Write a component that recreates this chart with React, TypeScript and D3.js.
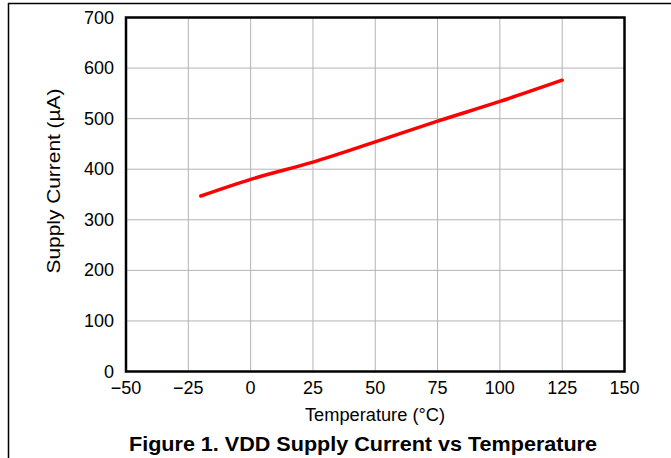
import React, { useEffect, useRef } from 'react'
import * as d3 from 'd3'

const temps = [-20, 0, 25, 50, 75, 100, 125]
const current = [347, 380, 414, 454, 495, 534, 576]
const xTicks = [-50, -25, 0, 25, 50, 75, 100, 125, 150]
const yTicks = [0, 100, 200, 300, 400, 500, 600, 700]

export default function App() {
  const ref = useRef<SVGSVGElement>(null)
  useEffect(() => {
    if (!ref.current) return
    const svg = d3.select(ref.current)
    svg.selectAll('*').remove()
    const W = 671, H = 458
    const m = { left: 126, top: 17.5, right: 624.5, bottom: 371.5 }
    const font = 'Liberation Sans, Arial, sans-serif'
    const x = d3.scaleLinear().domain([-50, 150]).range([m.left, m.right])
    const y = d3.scaleLinear().domain([0, 700]).range([m.bottom, m.top])

    // page frame
    svg.append('line').attr('x1', 8).attr('x2', W).attr('y1', 3.5).attr('y2', 3.5).attr('stroke', '#000').attr('stroke-width', 1.5)
    svg.append('line').attr('x1', 8.5).attr('x2', 8.5).attr('y1', 3).attr('y2', H).attr('stroke', '#000').attr('stroke-width', 1.5)

    const g = svg.append('g')
    g.selectAll('line.vg').data(xTicks).enter().append('line')
      .attr('x1', d => x(d)).attr('x2', d => x(d)).attr('y1', m.top).attr('y2', m.bottom)
      .attr('stroke', '#b4b4b4').attr('stroke-width', 1)
    g.selectAll('line.hg').data(yTicks).enter().append('line')
      .attr('x1', m.left).attr('x2', m.right).attr('y1', d => y(d)).attr('y2', d => y(d))
      .attr('stroke', '#b4b4b4').attr('stroke-width', 1)

    const line = d3.line<number>().x((_, i) => x(temps[i])).y(d => y(d)).curve(d3.curveMonotoneX)
    g.append('path').datum(current).attr('d', line).attr('fill', 'none')
      .attr('stroke', '#ff0000').attr('stroke-width', 3.5).attr('stroke-linecap', 'round')

    g.append('rect').attr('x', m.left).attr('y', m.top).attr('width', m.right - m.left).attr('height', m.bottom - m.top)
      .attr('fill', 'none').attr('stroke', '#000').attr('stroke-width', 2.5)

    g.selectAll('text.xt').data(xTicks).enter().append('text')
      .attr('x', d => x(d)).attr('y', 394).attr('text-anchor', 'middle')
      .attr('font-family', font).attr('font-size', 18)
      .text(d => d < 0 ? '\u2212' + Math.abs(d) : String(d))
    g.selectAll('text.yt').data(yTicks).enter().append('text')
      .attr('x', 114).attr('y', d => y(d) + 6).attr('text-anchor', 'end')
      .attr('font-family', font).attr('font-size', 18)
      .text(d => String(d))

    svg.append('text').attr('x', 375).attr('y', 421).attr('text-anchor', 'middle')
      .attr('font-family', font).attr('font-size', 17.5)
      .attr('textLength', 140).attr('lengthAdjust', 'spacingAndGlyphs')
      .text('Temperature (°C)')
    svg.append('text').attr('transform', `translate(60,181) rotate(-90)`).attr('text-anchor', 'middle')
      .attr('font-family', font).attr('font-size', 18.5)
      .attr('textLength', 185).attr('lengthAdjust', 'spacingAndGlyphs')
      .text('Supply Current (µA)')
    svg.append('text').attr('x', 363).attr('y', 451).attr('text-anchor', 'middle')
      .attr('font-family', font).attr('font-size', 20).attr('font-weight', 'bold')
      .attr('textLength', 468).attr('lengthAdjust', 'spacingAndGlyphs')
      .text('Figure 1. VDD Supply Current vs Temperature')
  }, [])
  return <svg ref={ref} width={671} height={458} style={{ position: 'absolute', left: 0, top: 0, background: '#fff' }} />
}
